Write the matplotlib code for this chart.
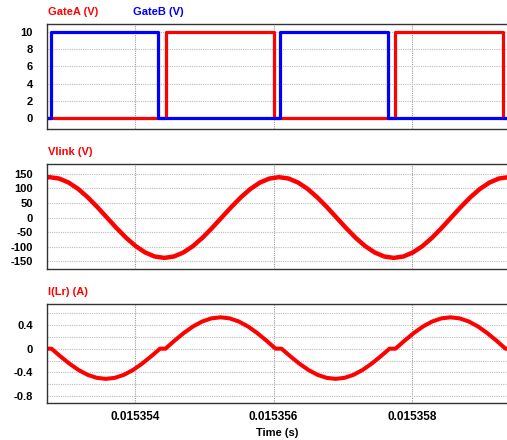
import matplotlib
matplotlib.use("Agg")
import matplotlib.pyplot as plt
from matplotlib.ticker import FixedLocator, FuncFormatter

plt.rcParams['font.family'] = ['Liberation Sans', 'DejaVu Sans']
plt.rcParams['font.weight'] = 'bold'
plt.rcParams['axes.unicode_minus'] = False

# time values are in microseconds
t_start, t_end = 15352.729, 15359.372

# gate drive signals (step, value held until next time)
gate_a_t = [15352.70, 15354.443, 15356.007, 15357.759, 15359.318, 15359.40]
gate_a_v = [0, 10, 0, 10, 0, 0]
gate_b_t = [15352.70, 15352.783, 15354.328, 15356.094, 15357.653, 15359.40]
gate_b_v = [0, 10, 0, 10, 0, 0]

# link voltage samples
vlink_t = [15352.628, 15352.766, 15352.904, 15353.042, 15353.180, 15353.318,
           15353.456, 15353.594, 15353.732, 15353.870, 15354.009, 15354.147,
           15354.285, 15354.423, 15354.561, 15354.699, 15354.837, 15354.975,
           15355.113, 15355.251, 15355.390, 15355.528, 15355.666, 15355.804,
           15355.942, 15356.080, 15356.218, 15356.356, 15356.494, 15356.632,
           15356.771, 15356.909, 15357.047, 15357.185, 15357.323, 15357.461,
           15357.599, 15357.737, 15357.875, 15358.013, 15358.152, 15358.290,
           15358.428, 15358.566, 15358.704, 15358.842, 15358.980, 15359.118,
           15359.256, 15359.394, 15359.533]
vlink_v = [133.3, 138.0, 133.3, 119.5, 97.6, 69.0,
           35.7, 0.0, -35.7, -69.0, -97.6, -119.5,
           -133.3, -138.0, -133.3, -119.5, -97.6, -69.0,
           -35.7, 0.0, 35.7, 69.0, 97.6, 119.5,
           133.3, 138.0, 133.3, 119.5, 97.6, 69.0,
           35.7, 0.0, -35.7, -69.0, -97.6, -119.5,
           -133.3, -138.0, -133.3, -119.5, -97.6, -69.0,
           -35.7, 0.0, 35.7, 69.0, 97.6, 119.5,
           133.3, 138.0, 133.3]

# resonant inductor current samples
ilr_t = [15352.700,
         15352.794, 15352.925, 15353.055, 15353.186, 15353.316, 15353.447, 15353.578,
         15353.708, 15353.839, 15353.969, 15354.100, 15354.230, 15354.361,
         15354.440, 15354.572, 15354.705, 15354.837, 15354.970, 15355.102, 15355.235,
         15355.367, 15355.499, 15355.632, 15355.764, 15355.897, 15356.029,
         15356.116, 15356.246, 15356.376, 15356.506, 15356.636, 15356.766, 15356.896,
         15357.025, 15357.155, 15357.285, 15357.415, 15357.545, 15357.675,
         15357.762, 15357.894, 15358.027, 15358.159, 15358.291, 15358.424, 15358.556,
         15358.688, 15358.821, 15358.953, 15359.085, 15359.218, 15359.350,
         15359.400]
ilr_v = [0.0,
         0.0, -0.132, -0.255, -0.361, -0.442, -0.493, -0.510,
         -0.493, -0.442, -0.361, -0.255, -0.132, 0.0,
         0.0, 0.137, 0.265, 0.375, 0.459, 0.512, 0.530,
         0.512, 0.459, 0.375, 0.265, 0.137, 0.0,
         0.0, -0.132, -0.255, -0.361, -0.442, -0.493, -0.510,
         -0.493, -0.442, -0.361, -0.255, -0.132, 0.0,
         0.0, 0.137, 0.265, 0.375, 0.459, 0.512, 0.530,
         0.512, 0.459, 0.375, 0.265, 0.137, 0.0,
         0.0]

x_ticks = [15354, 15356, 15358]

RED = '#ff0000'
BLUE = '#0000ff'

fig = plt.figure(figsize=(5.07, 4.40), dpi=100)
left, width = 47 / 507, 460 / 507
ax1 = fig.add_axes([left, 311 / 440, width, 105 / 440])
ax2 = fig.add_axes([left, 171 / 440, width, 105 / 440])
ax3 = fig.add_axes([left, 37 / 440, width, 99 / 440])


def style_axes(ax):
    ax.set_xlim(t_start, t_end)
    ax.xaxis.set_major_locator(FixedLocator(x_ticks))
    ax.tick_params(axis='both', length=0, labelsize=8, pad=10)
    ax.tick_params(axis='x', pad=6, labelsize=8.5)
    ax.grid(True, axis='y', which='both', color='#bdbdbd', linestyle=(0, (1, 1)), linewidth=0.8)
    ax.grid(True, axis='x', which='major', color='#9a9a9a', linestyle=(0, (1, 1)), linewidth=0.8)
    ax.set_axisbelow(True)
    for side in ('top', 'bottom', 'left'):
        ax.spines[side].set_color('#333333')
        ax.spines[side].set_linewidth(1.0)
    ax.spines['right'].set_visible(False)
    for lab in ax.get_yticklabels() + ax.get_xticklabels():
        lab.set_fontweight('bold')


# gate signals
ax1.step(gate_a_t, gate_a_v, where='post', color=RED, linewidth=2.3)
ax1.step(gate_b_t, gate_b_v, where='post', color=BLUE, linewidth=2.3)
ax1.set_ylim(-1.23, 10.89)
ax1.set_yticks([0, 2, 4, 6, 8, 10])
style_axes(ax1)
ax1.set_xticklabels([])

# link voltage
ax2.plot(vlink_t, vlink_v, color=RED, linewidth=3.2)
ax2.set_ylim(-176, 183)
ax2.set_yticks([-150, -100, -50, 0, 50, 100, 150])
style_axes(ax2)
ax2.set_xticklabels([])

# inductor current
ax3.plot(ilr_t, ilr_v, color=RED, linewidth=2.9)
ax3.set_ylim(-0.918, 0.755)
ax3.set_yticks([-0.8, -0.4, 0, 0.4])
ax3.set_yticklabels(['-0.8', '-0.4', '0', '0.4'])
ax3.yaxis.set_minor_locator(FixedLocator([-0.6, -0.2, 0.2, 0.6]))
ax3.tick_params(axis='y', which='minor', length=0)
ax3.xaxis.set_major_formatter(FuncFormatter(lambda v, pos: f"{v * 1e-6:.6f}"))
style_axes(ax3)
ax3.set_xlabel('Time (s)', fontsize=8, fontweight='bold', labelpad=3)

# panel titles
fig.text(47.7 / 507, 1 - 11.7 / 440, 'GateA (V)', color=RED, fontsize=8,
         fontweight='bold', va='center', ha='left')
fig.text(133.3 / 507, 1 - 11.7 / 440, 'GateB (V)', color=BLUE, fontsize=8,
         fontweight='bold', va='center', ha='left')
fig.text(47.7 / 507, 1 - 151.7 / 440, 'Vlink (V)', color=RED, fontsize=8,
         fontweight='bold', va='center', ha='left')
fig.text(47.7 / 507, 1 - 292.3 / 440, 'I(Lr) (A)', color=RED, fontsize=8,
         fontweight='bold', va='center', ha='left')

fig.savefig('out.png', dpi=100)
